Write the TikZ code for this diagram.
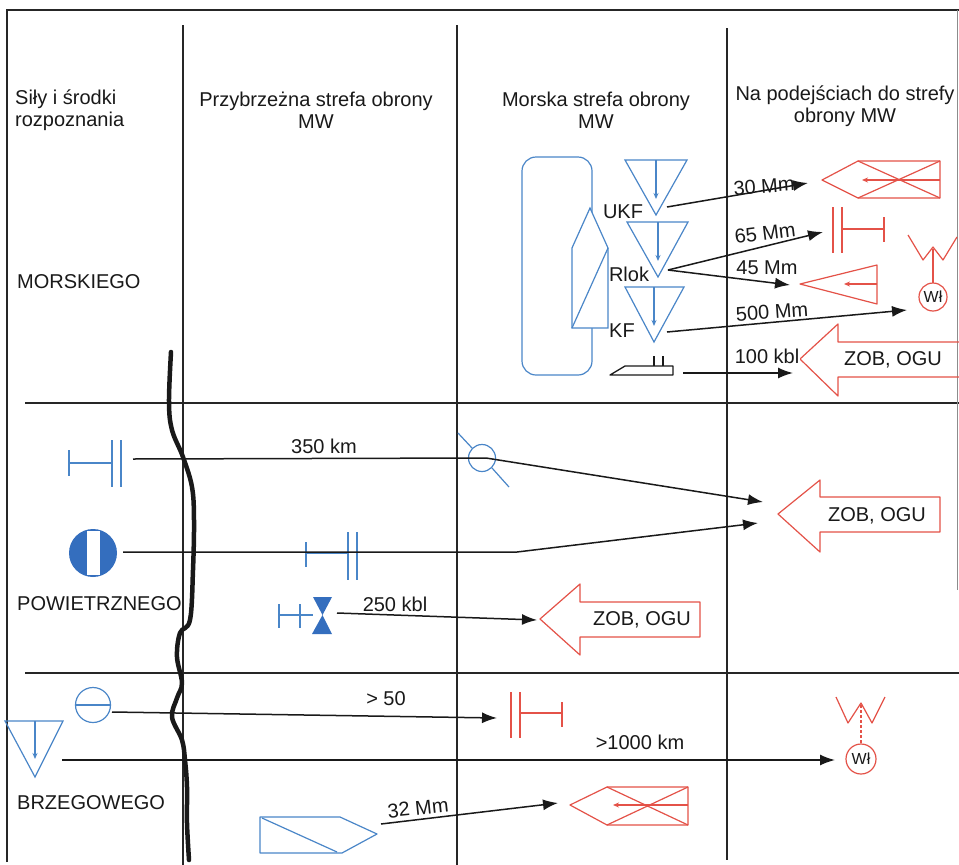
\documentclass[tikz,border=0pt]{standalone}
\usepackage{fontspec}
\setmainfont{Liberation Sans}
\usetikzlibrary{arrows.meta}
\definecolor{blu}{RGB}{74,134,200}
\definecolor{blufill}{RGB}{52,110,190}
\definecolor{rd}{RGB}{228,82,72}
\begin{document}
\begin{tikzpicture}[x=1pt,y=-1pt,
  gridline/.style={line width=1.3pt, black!85},
  arr/.style={line width=1.5pt, black!90, -{Latex[length=15pt,width=11pt]}},
  bl/.style={blu, line width=1.2pt},
  rl/.style={rd, line width=1.2pt},
  smallarr/.style={-{Stealth[length=6pt,width=5pt]}},
  lbl/.style={font=\fontsize{20}{22}\selectfont, inner sep=0pt, text=black!90},
  hdr/.style={font=\fontsize{20}{22}\selectfont, inner sep=0pt, align=center, text=black!90},
  wl/.style={font=\fontsize{16}{16}\selectfont, inner sep=0pt, text=black!90}]
\useasboundingbox (0,0) rectangle (959,865);
\fill[white] (0,0) rectangle (959,865);

% ---------- table ----------
\draw[gridline] (7,862) -- (7,10) -- (959,10);
\draw[gridline] (183,25) -- (183,865);
\draw[gridline] (457,25) -- (457,865);
\draw[gridline] (727,28) -- (727,860);
\draw[gridline] (25,403) -- (959,403);
\draw[gridline] (25,673) -- (959,673);
\draw[black!45, line width=1pt] (957.5,10) -- (957.5,590);

% thick wavy line
\draw[line width=4.5pt, black!90, line cap=round, line join=round]
  plot[smooth, tension=0.6] coordinates {(171,352) (169,402) (172,430) (183,457) (192,487)
  (194,520) (193,570) (190,620) (180,633) (177,657) (182,683) (177,698) (172,717)
  (182,740) (185,760) (187,787) (187,823) (189,860)};

% ---------- headers ----------
\node[hdr, align=left, anchor=west] (h1) at (15,110) {Siły i środki\\rozpoznania};
\node[hdr] (h2) at (316,110) {Przybrzeżna strefa obrony\\MW};
\node[hdr] (h3) at (596,110) {Morska strefa obrony\\MW};
\node[hdr] (h4) at (845,106) {Na podejściach do strefy\\obrony MW};

\node[lbl, anchor=west] (r1) at (17,282) {MORSKIEGO};
\node[lbl, anchor=west] (r2) at (17,604) {POWIETRZNEGO};
\node[lbl, anchor=west] (r3) at (17,803) {BRZEGOWEGO};

% ---------- sea section : own forces ----------
\draw[bl, rounded corners=14pt] (522,157) rectangle (592,375);
\draw[bl, fill=white] (572,328) -- (572,248) -- (590,208) -- (608,248) -- (608,328) -- cycle;
\draw[bl] (572,328) -- (608,248);

\draw[bl] (625,160) -- (687,160) -- (656,215) -- cycle;
\draw[bl, smallarr] (656,160) -- (656,199);
\draw[bl] (627,222) -- (688,222) -- (658,277) -- cycle;
\draw[bl, smallarr] (658,222) -- (658,261);
\draw[bl] (625,287) -- (684,287) -- (654,342) -- cycle;
\draw[bl, smallarr] (654,287) -- (654,326);

\node[lbl] (tukf) at (623,212) {UKF};
\node[lbl] (trlok) at (629,274) {Rlok};
\node[lbl] (tkf) at (622,331) {KF};

\draw[line width=1.3pt, black!90, line join=round] (610,375) -- (673,375) -- (673,366) -- (625,366) -- cycle;
\draw[line width=1.1pt, black!90] (654,356) -- (654,366) (663,356) -- (663,366);

\coordinate (ukf) at (667,207);
\coordinate (rlok) at (668,270);
\coordinate (kf) at (667,332);
\coordinate (shp) at (683,373);

% ---------- red targets (sea) ----------
\begin{scope}[shift={(822,161)}]
  \draw[rl, line join=round] (0,19) -- (36,0) -- (118,0) -- (118,37) -- (36,37) -- cycle;
  \draw[rl] (36,0) -- (118,37) (36,37) -- (118,0);
  \draw[rl, smallarr] (118,19) -- (40,19);
  \coordinate (tship1) at (-14,22);
\end{scope}
\begin{scope}[shift={(833,207)}]
  \draw[rl] (0,0) -- (0,46) (9,0) -- (9,46) (9,22) -- (51,22) (51,10) -- (51,35);
  \coordinate (tsens1) at (-10,25);
\end{scope}
\draw[rl, line join=round] (800,284) -- (877,265) -- (877,304) -- cycle;
\draw[rl, smallarr] (877,284) -- (844,284);
\coordinate (ttri) at (790,285);

\draw[rl, line join=round] (908,235) -- (923,260) -- (933,247) -- (943,260) -- (957,237);
\draw[rl] (933,249) -- (933,283);
\draw[rl] (933,297) circle (14);
\node[wl] (wl1) at (933,297) {Wł};
\coordinate (twl1) at (907,310);

\draw[rl, line join=round] (800,359) -- (838,324) -- (838,342) -- (965,342) -- (965,377) -- (838,377) -- (838,396) -- cycle;
\node[lbl] (zob1) at (893,360) {ZOB, OGU};
\coordinate (tzob1) at (793,373);

\draw[arr] (ukf) -- (tship1);
\draw[arr] (rlok) -- (tsens1);
\draw[arr] (rlok) -- (ttri);
\draw[arr] (kf) -- (twl1);
\draw[arr] (shp) -- (tzob1);

\node[lbl, rotate=4] (l30) at (764,186) {30 Mm};
\node[lbl, rotate=7] (l65) at (765,233) {65 Mm};
\node[lbl] (l45) at (767,268) {45 Mm};
\node[lbl, rotate=4] (l500) at (772,312) {500 Mm};
\node[lbl, fill=white, inner sep=1pt] (l100) at (767,356) {100 kbl};

% ---------- air section ----------
\begin{scope}[shift={(69,440)}]
  \draw[bl] (0,10) -- (0,36) (0,23) -- (43,23) (43,0) -- (43,47) (52,0) -- (52,47);
\end{scope}
\coordinate (air1) at (133,459);

\fill[blufill] (93,553) circle (24);
\fill[white] (86.5,531) rectangle (99.5,575);
\coordinate (air2) at (123,552);

\begin{scope}[shift={(306,532)}]
  \draw[bl] (0,10) -- (0,35) (0,21) -- (42,21) (42,0) -- (42,48) (51,0) -- (51,48);
\end{scope}

\draw[bl] (279,604) -- (279,628) (300,604) -- (300,628) (279,615) -- (313,615);
\fill[blufill] (313,597) -- (332,597) -- (322.5,615) -- cycle;
\fill[blufill] (312,634) -- (332,634) -- (322.5,615) -- cycle;
\coordinate (air3) at (337,613);

\draw[bl] (482,458) circle (13.5);
\draw[bl] (458,433) -- (472,448) (492,468) -- (509,487);
\coordinate (radar) at (486,458);
\coordinate (bend2) at (517,552);

\draw[rl, line join=round] (778,514) -- (820,480) -- (820,497) -- (940,497) -- (940,532) -- (820,532) -- (820,552) -- cycle;
\node[lbl] (zob2) at (877,516) {ZOB, OGU};
\coordinate (tzob2a) at (763,502);
\coordinate (tzob2b) at (758,523);

\draw[rl, line join=round] (540,619) -- (580,584) -- (580,602) -- (700,602) -- (700,637) -- (580,637) -- (580,655) -- cycle;
\node[lbl] (zob3) at (642,620) {ZOB, OGU};
\coordinate (tzob3) at (537,620);

\draw[arr] (air1) -- (radar) -- (tzob2a);
\draw[arr] (air2) -- (bend2) -- (tzob2b);
\draw[arr] (air3) -- (tzob3);

\node[lbl] (l350) at (324,446) {350 km};
\node[lbl] (l250) at (395,604) {250 kbl};

% ---------- coastal section ----------
\draw[bl] (93,705) circle (17.5);
\draw[bl] (75.5,705) -- (110.5,705);
\coordinate (c1) at (112,712);

\draw[bl] (5,721) -- (63,721) -- (35,777) -- cycle;
\draw[bl, smallarr] (35,721) -- (35,759);
\coordinate (c2) at (62,760);

\draw[bl, line join=round] (260,817) -- (340,817) -- (377,834) -- (342,853) -- (260,853) -- cycle;
\draw[bl] (262,818) -- (337,852);
\coordinate (c3) at (381,824);

\begin{scope}[shift={(511,692)}]
  \draw[rl] (0,0) -- (0,46) (9,0) -- (9,46) (9,21) -- (51,21) (51,10) -- (51,35);
  \coordinate (tsens2) at (-14,26);
\end{scope}

\draw[rl, line join=round] (836,697) -- (848,723) -- (861,703) -- (872,723) -- (885,697);
\draw[rl, densely dashed] (861,705) -- (861,744);
\draw[rl] (861,759) circle (15);
\node[wl] (wl2) at (861,759) {Wł};
\coordinate (twl2) at (835,760);

\begin{scope}[shift={(570,787)}]
  \draw[rl, line join=round] (0,18) -- (37,0) -- (118,0) -- (118,38) -- (37,38) -- cycle;
  \draw[rl] (37,0) -- (118,38) (37,38) -- (118,0);
  \draw[rl, smallarr] (118,18) -- (43,18);
  \coordinate (tship2) at (-12,16);
\end{scope}

\draw[arr] (c1) -- (tsens2);
\draw[arr] (c2) -- (twl2);
\draw[arr] (c3) -- (tship2);

\node[lbl] (l50) at (386,699) {> 50};
\node[lbl] (l1000) at (640,742) {>1000 km};
\node[lbl, rotate=6] (l32) at (418,808) {32 Mm};
\end{tikzpicture}
\end{document}
